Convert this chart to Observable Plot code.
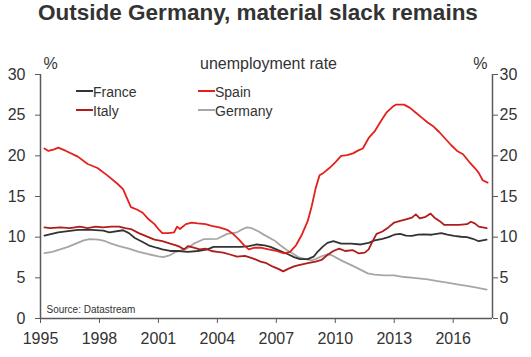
<!DOCTYPE html>
<html><head><meta charset="utf-8">
<script src="https://cdn.jsdelivr.net/npm/d3@7"></script>
<script src="https://cdn.jsdelivr.net/npm/@observablehq/plot@0.6"></script>
<style>
body{margin:0;background:#fff;}
#wrap{position:relative;width:531px;height:357px;font-family:"Liberation Sans",Arial,sans-serif;color:#333;overflow:hidden;}
#title{position:absolute;left:0;top:2px;width:516px;text-align:center;font-weight:bold;font-size:22.5px;line-height:22px;color:#333;}
#chart{position:absolute;left:0;top:40px;}
.lg-line{position:absolute;height:2px;width:17px;}
.lg-text{position:absolute;font-size:14px;line-height:14px;color:#333;white-space:nowrap;}
</style></head><body>
<div id="wrap">
<div id="title">Outside Germany, material slack remains</div>
<div id="chart"></div>
</div>
<script>
// ---- data ----
const spainYears = [1995.2,1995.4,1995.7,1995.9,1996.3,1996.9,1997.4,1997.9,1998.4,1998.9,1999.2,1999.4,1999.6,1999.9,2000.2,2000.5,2000.8,2001.0,2001.2,2001.5,2001.8,2001.95,2002.1,2002.4,2002.7,2003.0,2003.4,2003.7,2004.1,2004.5,2004.8,2005.1,2005.4,2005.6,2005.9,2006.2,2006.6,2007.0,2007.4,2007.7,2008.0,2008.3,2008.6,2008.8,2009.0,2009.2,2009.4,2009.7,2010.0,2010.3,2010.6,2010.9,2011.2,2011.4,2011.7,2012.0,2012.3,2012.6,2012.9,2013.1,2013.5,2013.8,2014.1,2014.4,2014.7,2015.0,2015.3,2015.6,2015.9,2016.2,2016.5,2016.8,2017.1,2017.3,2017.5,2017.75];
const spainRate = [20.9,20.6,20.8,21.0,20.6,19.9,19.0,18.5,17.6,16.6,15.9,14.8,13.7,13.4,13.0,12.2,11.6,11.0,10.5,10.5,10.6,11.3,11.0,11.6,11.8,11.7,11.6,11.4,11.2,10.9,10.4,9.7,8.9,8.5,8.7,8.7,8.5,8.3,8.0,8.2,9.0,10.3,12.0,13.8,16.0,17.6,17.9,18.5,19.2,20.0,20.1,20.3,20.7,20.9,22.2,23.0,24.2,25.3,26.0,26.3,26.3,25.9,25.3,24.7,24.1,23.6,22.9,22.1,21.3,20.6,20.2,19.3,18.5,17.9,17.0,16.7];

const italyYears = [1995.2,1995.5,1996.0,1996.5,1997.0,1997.4,1997.8,1998.2,1998.6,1999.0,1999.3,1999.6,2000.0,2000.4,2000.8,2001.2,2001.6,2001.9,2002.1,2002.3,2002.5,2002.8,2003.1,2003.4,2003.7,2004.0,2004.3,2004.6,2005.0,2005.4,2005.8,2006.2,2006.5,2006.8,2007.1,2007.35,2007.6,2007.9,2008.2,2008.6,2009.0,2009.3,2009.6,2009.9,2010.2,2010.5,2010.9,2011.2,2011.5,2011.7,2011.9,2012.1,2012.4,2012.7,2013.0,2013.3,2013.6,2013.9,2014.1,2014.3,2014.6,2014.85,2015.05,2015.3,2015.55,2015.9,2016.3,2016.7,2016.9,2017.1,2017.3,2017.5,2017.7];
const italyRate = [11.2,11.1,11.2,11.1,11.3,11.1,11.3,11.2,11.3,11.3,11.1,11.0,10.5,10.1,9.7,9.5,9.2,9.0,8.8,8.5,8.9,8.7,8.5,8.6,8.3,8.2,8.1,7.9,7.6,7.7,7.4,7.0,6.8,6.4,6.1,5.8,6.1,6.4,6.6,6.8,7.0,7.2,7.8,8.3,8.6,8.3,8.4,8.0,8.1,8.5,9.5,10.4,10.7,11.2,11.8,12.0,12.2,12.4,12.8,12.3,12.5,12.9,12.4,12.0,11.5,11.5,11.5,11.6,11.9,11.7,11.3,11.2,11.1];

const franceYears = [1995.2,1995.9,1996.9,1997.6,1998.2,1998.5,1999.2,1999.5,1999.8,2000.2,2000.5,2000.9,2001.2,2001.6,2002.0,2002.5,2003.0,2003.5,2003.8,2004.5,2005.2,2005.6,2006.0,2006.4,2006.7,2007.0,2007.3,2007.6,2007.9,2008.2,2008.6,2008.9,2009.1,2009.35,2009.6,2009.9,2010.3,2010.8,2011.3,2011.7,2012.0,2012.4,2012.7,2013.0,2013.3,2013.6,2013.9,2014.2,2014.5,2014.9,2015.4,2015.7,2016.05,2016.4,2016.7,2017.0,2017.3,2017.5,2017.7];
const franceRate = [10.2,10.6,10.9,10.9,10.8,10.6,10.85,10.5,9.9,9.4,9.0,8.7,8.5,8.3,8.3,8.2,8.3,8.5,8.8,8.8,8.8,8.9,9.1,9.0,8.8,8.5,8.2,7.9,7.55,7.3,7.3,7.6,8.2,8.8,9.3,9.5,9.2,9.2,9.1,9.3,9.6,9.8,10.0,10.3,10.4,10.2,10.15,10.3,10.35,10.3,10.5,10.3,10.15,10.05,10.0,9.8,9.5,9.6,9.7];

const germanyYears = [1995.2,1995.6,1996.0,1996.4,1996.8,1997.2,1997.5,1997.95,1998.3,1998.6,1999.0,1999.5,2000.0,2000.5,2001.0,2001.25,2001.6,2001.9,2002.45,2002.8,2003.3,2004.0,2004.5,2005.0,2005.3,2005.5,2005.75,2006.1,2006.4,2006.9,2007.2,2007.55,2007.9,2008.15,2008.5,2008.8,2009.0,2009.3,2009.6,2009.8,2010.3,2011.0,2011.65,2012.0,2012.5,2013.0,2013.5,2014.0,2014.7,2015.2,2015.7,2016.2,2016.7,2017.2,2017.7];
const germanyRate = [8.05,8.2,8.5,8.8,9.2,9.6,9.75,9.7,9.5,9.2,8.9,8.6,8.2,7.9,7.65,7.55,7.8,8.2,8.6,9.2,9.75,9.8,10.4,10.6,11.0,11.2,11.1,10.7,10.25,9.6,9.0,8.4,7.9,7.5,7.3,7.15,7.3,7.65,7.9,7.8,7.15,6.35,5.55,5.4,5.3,5.3,5.1,5.0,4.8,4.6,4.4,4.2,4.0,3.8,3.55];

const seriesNames = ["Germany","France","Italy","Spain"];
const seriesColors = {France:"#333333", Spain:"#e3201b", Italy:"#b01c1c", Germany:"#a6a6a6"};
const xTicks = [1995,1998,2001,2004,2007,2010,2013,2016];
const yTicks = [0,5,10,15,20,25,30];
const legendNames = ["France","Spain","Italy","Germany"];

const pairs = {
  France: [franceYears, franceRate],
  Spain: [spainYears, spainRate],
  Italy: [italyYears, italyRate],
  Germany: [germanyYears, germanyRate]
};
const rows = [];
for (const name of seriesNames) {
  const [ys, vs] = pairs[name];
  ys.forEach((y, i) => rows.push({series: name, year: y, rate: vs[i]}));
}

const axisColor = "#5a5a5a";
const textColor = "#333";

const chart = Plot.plot({
  width: 531,
  height: 317,
  marginTop: 34,
  marginBottom: 39,
  marginLeft: 40,
  marginRight: 39,
  style: {fontFamily: "'Liberation Sans', Arial, sans-serif", fontSize: "16px", color: textColor, background: "transparent"},
  x: {domain: [1995, 2018]},
  y: {domain: [0, 30]},
  marks: [
    Plot.axisX({ticks: xTicks, tickFormat: d => String(d), tickSize: 5, tickPadding: 9, label: null, stroke: axisColor, fill: textColor}),
    Plot.axisY({anchor: "left", ticks: yTicks, tickSize: 5, tickPadding: 10, label: null, stroke: axisColor, fill: textColor}),
    Plot.axisY({anchor: "right", ticks: yTicks, tickSize: 5, tickPadding: 2, label: null, stroke: axisColor, fill: textColor}),
    Plot.ruleX([1995, 2018], {stroke: axisColor, strokeWidth: 1.5}),
    Plot.ruleY([0], {stroke: axisColor, strokeWidth: 1.5}),
    Plot.line(rows, {x: "year", y: "rate", z: "series", stroke: d => seriesColors[d.series], strokeWidth: 1.8}),
    Plot.text(["%"], {frameAnchor: "top-left", textAnchor: "start", lineAnchor: "bottom", dx: 3, dy: -6, fontSize: 16, fill: textColor}),
    Plot.text(["%"], {frameAnchor: "top-right", textAnchor: "end", lineAnchor: "bottom", dx: -5, dy: -6, fontSize: 16, fill: textColor}),
    Plot.text(["unemployment rate"], {frameAnchor: "top", lineAnchor: "bottom", dx: 2, dy: -6, fontSize: 16, fill: textColor}),
    Plot.text(["Source: Datastream"], {frameAnchor: "bottom-left", textAnchor: "start", lineAnchor: "bottom", dx: 6, dy: -6, fontSize: 10, fill: textColor})
  ]
});
document.getElementById("chart").appendChild(chart);

// legend (HTML overlay)
const legendPos = {France: [76, 91], Spain: [198, 91], Italy: [76, 110], Germany: [198, 110]};
const wrap = document.getElementById("wrap");
for (const name of legendNames) {
  const [lx, ly] = legendPos[name];
  const ln = document.createElement("div");
  ln.className = "lg-line";
  ln.style.left = lx + "px";
  ln.style.top = (ly - 1) + "px";
  ln.style.background = seriesColors[name];
  wrap.appendChild(ln);
  const tx = document.createElement("div");
  tx.className = "lg-text";
  tx.style.left = (lx + 17) + "px";
  tx.style.top = (ly + 5.5 - 11.85) + "px";
  tx.textContent = name;
  wrap.appendChild(tx);
}
</script>
</body></html>
